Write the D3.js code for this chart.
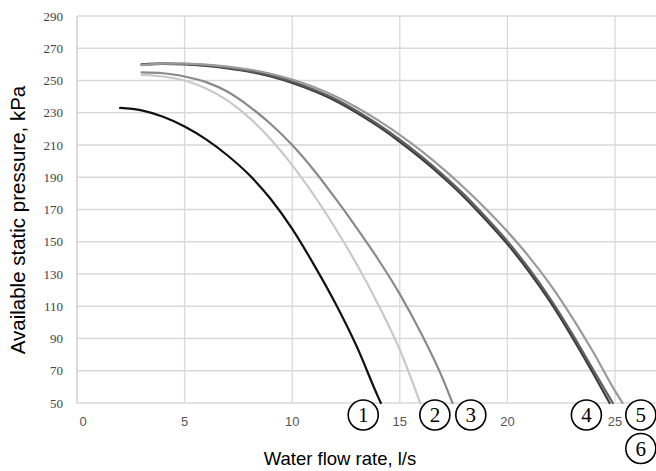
<!DOCTYPE html>
<html>
<head>
<meta charset="utf-8">
<script src="https://cdn.jsdelivr.net/npm/d3@7/dist/d3.min.js"></script>
<style>
  html, body { margin: 0; padding: 0; background: #fff; }
  svg { display: block; }
</style>
</head>
<body>
<div id="chart"></div>
<script>
// ---- data ----
const xTicks = [0, 5, 10, 15, 20, 25];
const yTicks = [50, 70, 90, 110, 130, 150, 170, 190, 210, 230, 250, 270, 290];

const curve1 = [[2, 233], [3, 231.5], [4, 227.5], [5, 221.5], [6, 213.5], [7, 203.5], [8, 191.5], [9, 176.5], [10, 158], [11, 136], [12, 112], [13, 85], [14, 53.5], [14.12, 50]];
const curve2 = [[3, 253.5], [4, 252.5], [5, 250], [6, 245], [7, 237.5], [8, 227], [9, 213.5], [10, 197.5], [11, 179], [12, 158.5], [13, 136], [14, 111], [15, 83], [15.95, 50]];
const curve3 = [[3, 255], [4, 254.5], [5, 252.5], [6, 249], [7, 243], [8, 234], [9, 223], [10, 210], [11, 194.5], [12, 177], [13, 158.5], [14, 139], [15, 117.5], [16, 93], [17, 65], [17.45, 50]];
const curve4 = [[3, 259.8], [4, 260.3], [5, 260], [6, 259], [7, 257.5], [8, 255.5], [9, 252.5], [10, 248.5], [11, 243.5], [12, 237.5], [13, 230], [14, 221.5], [15, 212], [16, 201.5], [17, 190], [18, 177.5], [19, 163.5], [20, 148.5], [21, 131.5], [22, 112.5], [23, 91], [24, 68], [24.75, 50]];
const curve5 = [[3, 260], [4, 260.6], [5, 260.4], [6, 259.5], [7, 258], [8, 256], [9, 253.2], [10, 249.3], [11, 244.4], [12, 238.5], [13, 231.1], [14, 222.7], [15, 213.3], [16, 202.9], [17, 191.5], [18, 179.1], [19, 165.2], [20, 150.3], [21, 133.4], [22, 114.5], [23, 93.2], [24, 70.3], [24.9, 50]];
const curve6 = [[3, 259.5], [4, 260.5], [5, 260.5], [6, 259.8], [7, 258.6], [8, 256.8], [9, 254.2], [10, 250.6], [11, 246], [12, 240.3], [13, 233.3], [14, 225.3], [15, 216.3], [16, 206.3], [17, 195.3], [18, 183.3], [19, 170.3], [20, 156.3], [21, 140.8], [22, 123.3], [23, 103.3], [24, 81.3], [25, 57.5], [25.35, 50]];

const seriesData = [curve1, curve2, curve3, curve4, curve5, curve6];
const seriesColors = ["#111111", "#c9c9c9", "#8a8a8a", "#3c3c3c", "#5e5e5e", "#9a9a9a"];

const labelNames = ["1", "2", "3", "4", "5", "6"];
const labelX = [13.3, 16.63, 18.3, 23.67, 26.2, 26.2];
const labelRow = [0, 0, 0, 0, 0, 1];

const xTitle = "Water flow rate, l/s";
const yTitle = "Available static pressure, kPa";

// ---- layout ----
const W = 656, H = 471;
const svg = d3.select("#chart").append("svg").attr("width", W).attr("height", H);

const x = d3.scaleLinear().domain([0, 25]).range([77, 615]);
const y = d3.scaleLinear().domain([50, 290]).range([403, 16]);
const plotRight = 656;

// gridlines
const g = svg.append("g");
g.selectAll("line.h").data(yTicks).join("line")
  .attr("x1", x(0)).attr("x2", plotRight)
  .attr("y1", d => y(d)).attr("y2", d => y(d))
  .attr("stroke", "#d9d9d9").attr("stroke-width", 1.3);
g.selectAll("line.v").data(xTicks).join("line")
  .attr("x1", d => x(d)).attr("x2", d => x(d))
  .attr("y1", y(290)).attr("y2", y(50))
  .attr("stroke", d => d === 0 ? "#c8c8c8" : "#d9d9d9").attr("stroke-width", 1.3);

// y tick labels
svg.append("g").selectAll("text").data(yTicks).join("text")
  .attr("x", 63).attr("y", d => y(d))
  .attr("dy", "0.35em")
  .attr("text-anchor", "end")
  .attr("font-family", "'Liberation Serif', 'Times New Roman', serif")
  .attr("font-size", 13)
  .attr("fill", "#444")
  .text(d => d);

// x tick labels
svg.append("g").selectAll("text").data(xTicks).join("text")
  .attr("x", d => x(d) + (d === 0 ? 6 : 0)).attr("y", 426)
  .attr("text-anchor", "middle")
  .attr("font-family", "'Liberation Sans', Arial, sans-serif")
  .attr("font-size", 13)
  .attr("fill", "#555")
  .text(d => d);

// curves
const line = d3.line().x(d => x(d[0])).y(d => y(d[1])).curve(d3.curveMonotoneX);
svg.append("g").selectAll("path").data(seriesData).join("path")
  .attr("d", line)
  .attr("fill", "none")
  .attr("stroke", (d, i) => seriesColors[i])
  .attr("stroke-width", 2.2)
  .attr("stroke-linecap", "round");

// circled number labels
const lg = svg.append("g").selectAll("g").data(labelNames).join("g")
  .attr("transform", (d, i) => `translate(${x(labelX[i])},${415 + labelRow[i] * 33.5})`);
lg.append("circle").attr("r", 15).attr("fill", "#fff").attr("stroke", "#000").attr("stroke-width", 1.6);
lg.append("text")
  .attr("text-anchor", "middle").attr("dy", "0.35em")
  .attr("font-family", "'Liberation Serif', 'Times New Roman', serif")
  .attr("font-size", 21)
  .attr("fill", "#000")
  .text(d => d);

// axis titles
svg.append("text")
  .attr("x", 340).attr("y", 465)
  .attr("text-anchor", "middle")
  .attr("font-family", "'Liberation Sans', Arial, sans-serif")
  .attr("font-size", 18.5)
  .attr("fill", "#000")
  .text(xTitle);

svg.append("text")
  .attr("transform", "translate(25,220) rotate(-90)")
  .attr("text-anchor", "middle")
  .attr("font-family", "'Liberation Sans', Arial, sans-serif")
  .attr("font-size", 20.5)
  .attr("fill", "#000")
  .text(yTitle);
</script>
</body>
</html>
